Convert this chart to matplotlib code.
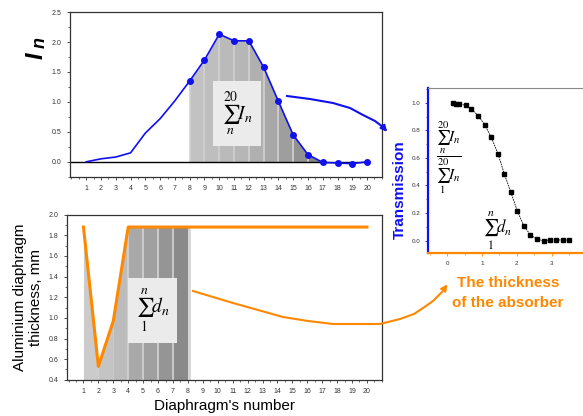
import numpy as np
import matplotlib.pyplot as plt
from matplotlib.patches import Rectangle
from matplotlib.ticker import MultipleLocator

plt.rcParams['font.family'] = ['Liberation Sans', 'DejaVu Sans']
plt.rcParams['mathtext.fontset'] = 'stix'

# diaphragm numbers and signal per diaphragm
diaphragm = np.arange(1, 21)
intensity = [0.0, 0.05, 0.08, 0.15, 0.48, 0.72, 1.02, 1.35, 1.70, 2.13,
             2.02, 2.02, 1.58, 1.01, 0.45, 0.12, -0.01, -0.02, -0.03, 0.0]
# aluminium diaphragm thickness, mm
thickness = [1.88, 0.53, 0.97, 1.88, 1.88, 1.88, 1.88, 1.88, 1.88, 1.88,
             1.88, 1.88, 1.88, 1.88, 1.88, 1.88, 1.88, 1.88, 1.88, 1.88]
# transmission vs absorber thickness
absorber = [0.18, 0.26, 0.33, 0.54, 0.70, 0.90, 1.09, 1.27, 1.46, 1.64,
            1.83, 2.02, 2.20, 2.39, 2.58, 2.77, 2.95, 3.13, 3.32, 3.51]
transmission = [1.0, 0.995, 0.99, 0.985, 0.954, 0.906, 0.836, 0.749, 0.63, 0.486,
                0.35, 0.212, 0.109, 0.04, 0.01, -0.002, 0.005, 0.005, 0.003, 0.003]

# gray shades of the stripes
top_grays = ['#c2c2c2', '#bebebe', '#bababa', '#b6b6b6', '#b0b0b0',
             '#a8a8a8', '#9e9e9e', '#929292', '#858585']
bot_grays = ['#cbcbcb', '#c4c4c4', '#bcbcbc', '#a9a9a9', '#a0a0a0', '#959595', '#8a8a8a']

# annotation curves in image pixels
blue_curve_x = [287, 310, 333, 350, 363, 375, 383, 389]
blue_curve_y = [96, 99, 103, 108, 115, 121, 127, 134]
orange_curve_x = [193, 213, 233, 258, 283, 308, 333, 356, 380, 400, 414, 423, 433, 442, 449]
orange_curve_y = [291, 297, 303, 310, 317, 321, 324, 324, 324, 319, 314, 308, 301, 292, 282]

frame = '#333333'
blue = '#1010ee'
orange = '#ff8800'

fig = plt.figure(figsize=(5.83, 4.16), dpi=100)

# ---- top panel
ax1 = fig.add_axes([0.120, 0.575, 0.535, 0.396])
for i in range(7, 16):
    x = [diaphragm[i], diaphragm[i + 1]]
    y = np.clip([intensity[i], intensity[i + 1]], 0, None)
    ax1.fill_between(x, 0, y, color=top_grays[i - 7], lw=0, zorder=1)
    ax1.vlines(diaphragm[i], 0, max(intensity[i], 0), color='#d0d0d0', lw=1.2, zorder=1.5)
ax1.hlines(0, -0.2, 20.2, color='black', lw=1, zorder=2)
ax1.plot(diaphragm, intensity, color=blue, lw=1.2, zorder=3)
ax1.plot(diaphragm[7:], intensity[7:], 'o', color=blue, ms=4, zorder=4)
ax1.add_patch(Rectangle((9.55, 0.27), 3.3, 1.08, facecolor='#ebebeb', edgecolor='none', zorder=5))
ax1.text(11.2, 0.81, r'$\sum_{n}^{20} I_n$', fontsize=14, ha='center', va='center', zorder=6)
ax1.set_xlim(-0.1, 21)
ax1.set_ylim(-0.25, 2.5)
ax1.set_xticks(diaphragm)
ax1.xaxis.set_minor_locator(MultipleLocator(0.5))
ax1.yaxis.set_major_locator(MultipleLocator(0.5))
ax1.yaxis.set_minor_locator(MultipleLocator(0.25))
ax1.tick_params(labelsize=5, length=2.5, width=0.6, colors=frame)
ax1.tick_params(which='minor', length=1.5, width=0.5, colors=frame)
for s in ax1.spines.values():
    s.set_color(frame)
    s.set_linewidth(0.9)
# I_n label, bold italic
fig.text(36 / 583, 1 - 56 / 416, 'I', fontsize=17, rotation=90, fontweight='bold',
         fontstyle='italic', ha='center', va='center')
fig.text(40 / 583, 1 - 43 / 416, 'n', fontsize=13, rotation=90, fontweight='bold',
         fontstyle='italic', ha='center', va='center')

# ---- bottom panel
ax2 = fig.add_axes([0.115, 0.087, 0.540, 0.397])
for i in range(0, 7):
    x = [diaphragm[i], diaphragm[i + 1]]
    y = [thickness[i], thickness[i + 1]]
    ax2.fill_between(x, 0.4, y, color=bot_grays[i], lw=0, zorder=1)
    if i >= 3:
        ax2.vlines(diaphragm[i], 0.4, thickness[i], color='#d4d4d4', lw=1.2, zorder=1.5)
ax2.vlines(8.05, 0.4, 1.88, color='#d4d4d4', lw=2, zorder=1.5)
ax2.plot(diaphragm, thickness, color=orange, lw=2.2, zorder=3)
ax2.add_patch(Rectangle((4.0, 0.76), 3.3, 0.63, facecolor='#ebebeb', edgecolor='none', zorder=5))
ax2.text(5.65, 1.07, r'$\sum_{1}^{n} d_n$', fontsize=14, ha='center', va='center', zorder=6)
ax2.set_xlim(-0.1, 21)
ax2.set_ylim(0.4, 2.0)
ax2.set_xticks(diaphragm)
ax2.xaxis.set_minor_locator(MultipleLocator(0.5))
ax2.yaxis.set_major_locator(MultipleLocator(0.2))
ax2.yaxis.set_minor_locator(MultipleLocator(0.1))
ax2.tick_params(labelsize=5, length=2.5, width=0.6, colors=frame)
ax2.tick_params(which='minor', length=1.5, width=0.5, colors=frame)
for s in ax2.spines.values():
    s.set_color(frame)
    s.set_linewidth(0.9)
ax2.set_xlabel("Diaphragm's number", fontsize=11, labelpad=3)
ax2.set_ylabel('Aluminium diaphragm\nthickness, mm', fontsize=11, labelpad=4)

# ---- right panel
ax3 = fig.add_axes([0.734, 0.392, 0.266, 0.397])
ax3.plot(absorber, transmission, color='black', lw=0.6, ls=(0, (2, 1)), zorder=2)
ax3.plot(absorber, transmission, 's', color='black', ms=2.6, zorder=3)
ax3.text(-0.33, 0.6, r'$\dfrac{\sum_{n}^{20} I_n}{\sum_{1}^{20} I_n}$', fontsize=11,
         ha='left', va='center')
ax3.text(1.45, 0.07, r'$\sum_{1}^{n} d_n$', fontsize=12, ha='center', va='center')
ax3.set_xlim(-0.55, 3.9)
ax3.set_ylim(-0.09, 1.11)
ax3.set_xticks([0, 1, 2, 3])
ax3.xaxis.set_minor_locator(MultipleLocator(0.5))
ax3.yaxis.set_major_locator(MultipleLocator(0.2))
ax3.yaxis.set_minor_locator(MultipleLocator(0.1))
ax3.tick_params(labelsize=4.5, length=2, width=0.6)
ax3.tick_params(which='minor', length=1.2, width=0.5)
ax3.tick_params(axis='y', colors=blue, labelcolor='#333333', which='both')
ax3.tick_params(axis='x', colors=orange, labelcolor='#333333', which='both')
ax3.spines['left'].set_color(blue)
ax3.spines['left'].set_linewidth(1.6)
ax3.spines['bottom'].set_color(orange)
ax3.spines['bottom'].set_linewidth(1.6)
ax3.spines['top'].set_color('#888888')
ax3.spines['right'].set_visible(False)
fig.text(400 / 583, 1 - 190 / 416, 'Transmission', color=blue, fontsize=11,
         fontweight='bold', rotation=90, ha='center', va='center')
fig.text(508 / 583, 1 - 293 / 416, 'The thickness\nof the absorber', color=orange,
         fontsize=11, fontweight='bold', ha='center', va='center', linespacing=1.5)

# ---- overlay with the curved arrows
ov = fig.add_axes([0, 0, 1, 1], zorder=10)
ov.set_xlim(0, 583)
ov.set_ylim(416, 0)
ov.axis('off')
ov.patch.set_alpha(0)
ov.plot(blue_curve_x[:-1], blue_curve_y[:-1], color=blue, lw=1.5)
ov.annotate('', xy=(blue_curve_x[-1], blue_curve_y[-1]), xytext=(blue_curve_x[-2], blue_curve_y[-2]),
            arrowprops=dict(arrowstyle='-|>', color=blue, lw=1.5, mutation_scale=9))
ov.plot(orange_curve_x[:-1], orange_curve_y[:-1], color=orange, lw=1.5)
ov.annotate('', xy=(orange_curve_x[-1], orange_curve_y[-1]), xytext=(orange_curve_x[-2], orange_curve_y[-2]),
            arrowprops=dict(arrowstyle='-|>', color=orange, lw=1.5, mutation_scale=9))

fig.savefig('out.png', dpi=100)
